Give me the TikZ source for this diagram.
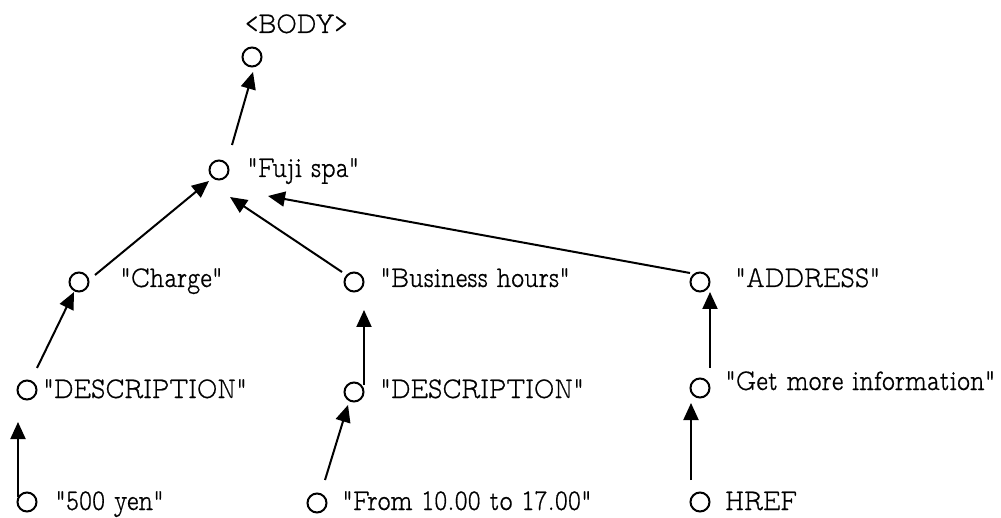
\documentclass[tikz,border=0pt]{standalone}
\usepackage{fontspec}
\usetikzlibrary{arrows.meta,calc}
\newfontfamily\lblfont{lmmonoproplt10-regular}[Extension=.otf,FakeStretch=0.83,FakeBold=0.6]
\begin{document}
\begin{tikzpicture}[x=1pt,y=-1pt,
  vtx/.style={circle,draw,line width=2pt,minimum size=19pt,inner sep=0pt},
  lbl/.style={anchor=base west,inner sep=0pt,font=\lblfont\fontsize{30}{32}\selectfont},
  arr/.style={line width=2pt,-{Triangle[length=17pt,width=15pt]}}]
\useasboundingbox (0,0) rectangle (1001,518);
% tree vertices
\node[vtx] (body)   at (252,57)  {};
\node[vtx] (fuji)   at (219,170) {};
\node[vtx] (charge) at (79,282)  {};
\node[vtx] (bus)    at (354,282) {};
\node[vtx] (addr)   at (700,282) {};
\node[vtx] (descL)  at (27,390)  {};
\node[vtx] (descM)  at (354,392) {};
\node[vtx] (gmi)    at (700,388) {};
\node[vtx] (yen)    at (27,502)  {};
\node[vtx] (from)   at (317,503) {};
\node[vtx] (href)   at (700,502) {};
% labels
\node[lbl] (tbody)   at (245,33)  {<BODY>};
\node[lbl] (tfuji)   at (247,177) {"Fuji spa"};
\node[lbl] (tcharge) at (120,287) {"Charge"};
\node[lbl] (tbus)    at (380,287) {"Business hours"};
\node[lbl] (taddr)   at (735,287) {"ADDRESS"};
\node[lbl] (tdescL)  at (43,398)  {"DESCRIPTION"};
\node[lbl] (tdescM)  at (380,398) {"DESCRIPTION"};
\node[lbl] (tgmi)    at (725,390) {"Get more information"};
\node[lbl] (tyen)    at (55,510)  {"500 yen"};
\node[lbl] (tfrom)   at (342,510) {"From 10.00 to 17.00"};
\node[lbl] (thref)   at (725,510) {HREF};
% child-to-parent arrows
\draw[arr] ($(fuji)+(13,-25)$)   -- ($(body)+(1,15)$);
\draw[arr] ($(charge)+(16,-7)$)  -- ($(fuji)+(-10,11)$);
\draw[arr] ($(bus)+(-12,-10)$)   -- ($(fuji)+(11,27)$);
\draw[arr] ($(addr)+(-10,-9)$)   -- ($(fuji)+(49,26)$);
\draw[arr] ($(descL)+(10,-22)$)  -- ($(charge)+(-5,10)$);
\draw[arr] ($(descM)+(10,-7)$)   -- ($(bus)+(10,28)$);
\draw[arr] ($(gmi)+(10,-20)$)    -- ($(addr)+(10,10)$);
\draw[arr] ($(yen)+(-9,-5)$)     -- ($(descL)+(-9,32)$);
\draw[arr] ($(from)+(8,-23)$)    -- ($(descM)+(-6,13)$);
\draw[arr] ($(href)+(-9,-22)$)   -- ($(gmi)+(-9,15)$);
\end{tikzpicture}
\end{document}
